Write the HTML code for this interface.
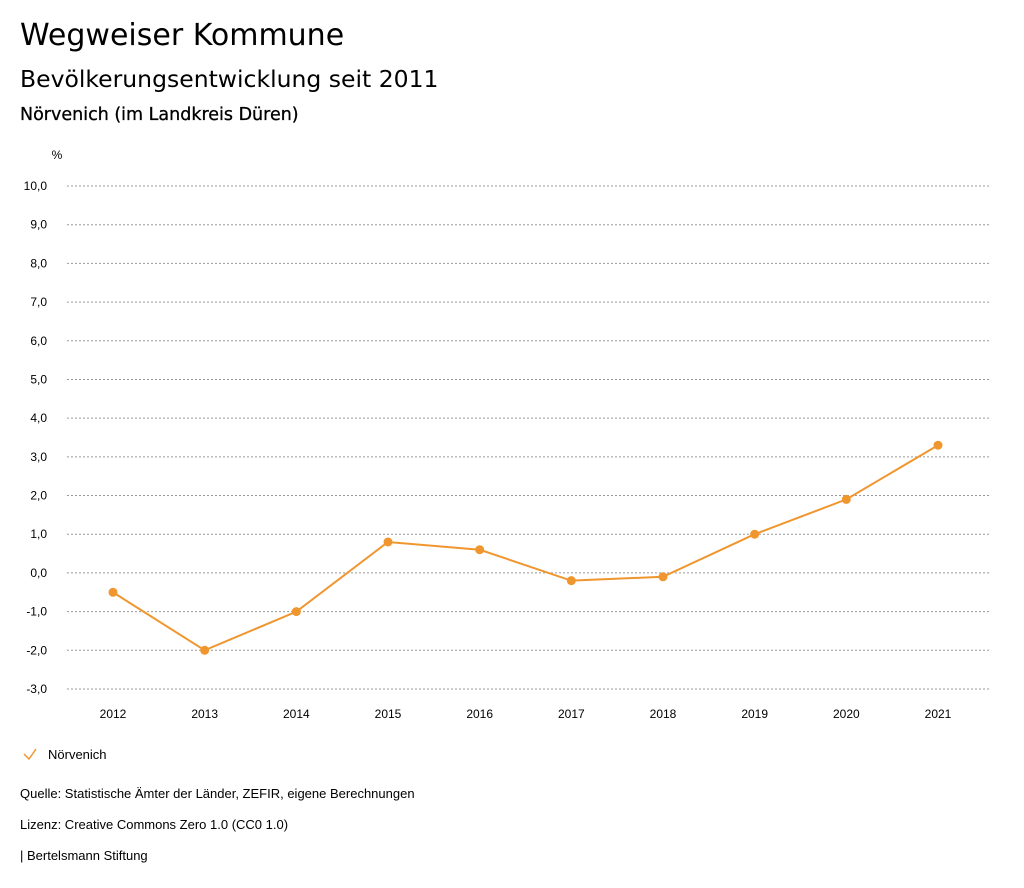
<!DOCTYPE html>
<html><head><meta charset="utf-8"><style>
body{margin:0;background:#fff;font-family:"Liberation Sans",sans-serif;color:#000;width:1024px;height:888px;overflow:hidden;position:relative}
.t{position:absolute;white-space:nowrap}
</style></head><body>
<div class="t" style="left:20px;top:18px;font-size:30px;font-family:'DejaVu Sans',sans-serif">Wegweiser Kommune</div>
<div class="t" style="left:20px;top:65px;font-size:23.5px;font-family:'DejaVu Sans',sans-serif">Bevölkerungsentwicklung seit 2011</div>
<div class="t" style="left:20px;top:105px;font-size:17.5px;font-family:'DejaVu Sans',sans-serif;-webkit-text-stroke:0.3px #000">Nörvenich (im Landkreis Düren)</div>
<svg id="chart" width="1024" height="888" style="position:absolute;left:0;top:0"></svg>
<div class="t" style="left:20px;top:786px;font-size:13px">Quelle: Statistische Ämter der Länder, ZEFIR, eigene Berechnungen</div>
<div class="t" style="left:20px;top:817px;font-size:13px">Lizenz: Creative Commons Zero 1.0 (CC0 1.0)</div>
<div class="t" style="left:20px;top:848px;font-size:13px">| Bertelsmann Stiftung</div>
<script>
const years=["2012","2013","2014","2015","2016","2017","2018","2019","2020","2021"];
const values=[-0.5,-2.0,-1.0,0.8,0.6,-0.2,-0.1,1.0,1.9,3.3];
const yTicks=[10,9,8,7,6,5,4,3,2,1,0,-1,-2,-3];
const svg=document.getElementById('chart');
const NS='http://www.w3.org/2000/svg';
const yMin=-3,yMax=10,yTop=186,yBot=689;
const y=v=>yBot-(v-yMin)/(yMax-yMin)*(yBot-yTop);
const x=i=>113+i*(938-113)/(years.length-1);
function mk(t,a){const e=document.createElementNS(NS,t);for(const k in a)e.setAttribute(k,a[k]);svg.appendChild(e);return e;}
let u=mk('text',{x:57,y:159,'font-size':12,'text-anchor':'middle'});u.textContent='%';


yTicks.forEach(v=>{
 const g=mk('line',{x1:67,x2:990,y1:y(v),y2:y(v),stroke:'#999','stroke-dasharray':'2,2','stroke-width':1});
 
 
 const t=mk('text',{x:47,y:y(v)+4,'font-size':12,'text-anchor':'end'});
 t.textContent=v.toFixed(1).replace('.',',');
 
 
});
years.forEach((yr,i)=>{
 const t=mk('text',{x:x(i),y:718,'font-size':12,'text-anchor':'middle'});
 t.textContent=yr;
 
 
});
const p=mk('polyline',{points:values.map((v,i)=>x(i)+','+y(v)).join(' '),fill:'none',stroke:'#f0962e','stroke-width':2});


values.forEach((v,i)=>{
 const c=mk('circle',{cx:x(i),cy:y(v),r:4.5,fill:'#f0962e'});
 
 
});
const lg=mk('polyline',{points:'24,754 29,759 36,749',fill:'none',stroke:'#f0962e','stroke-width':1.5});


const lt=mk('text',{x:48,y:759,'font-size':13});
lt.textContent='Nörvenich';


</script>
</body></html>
